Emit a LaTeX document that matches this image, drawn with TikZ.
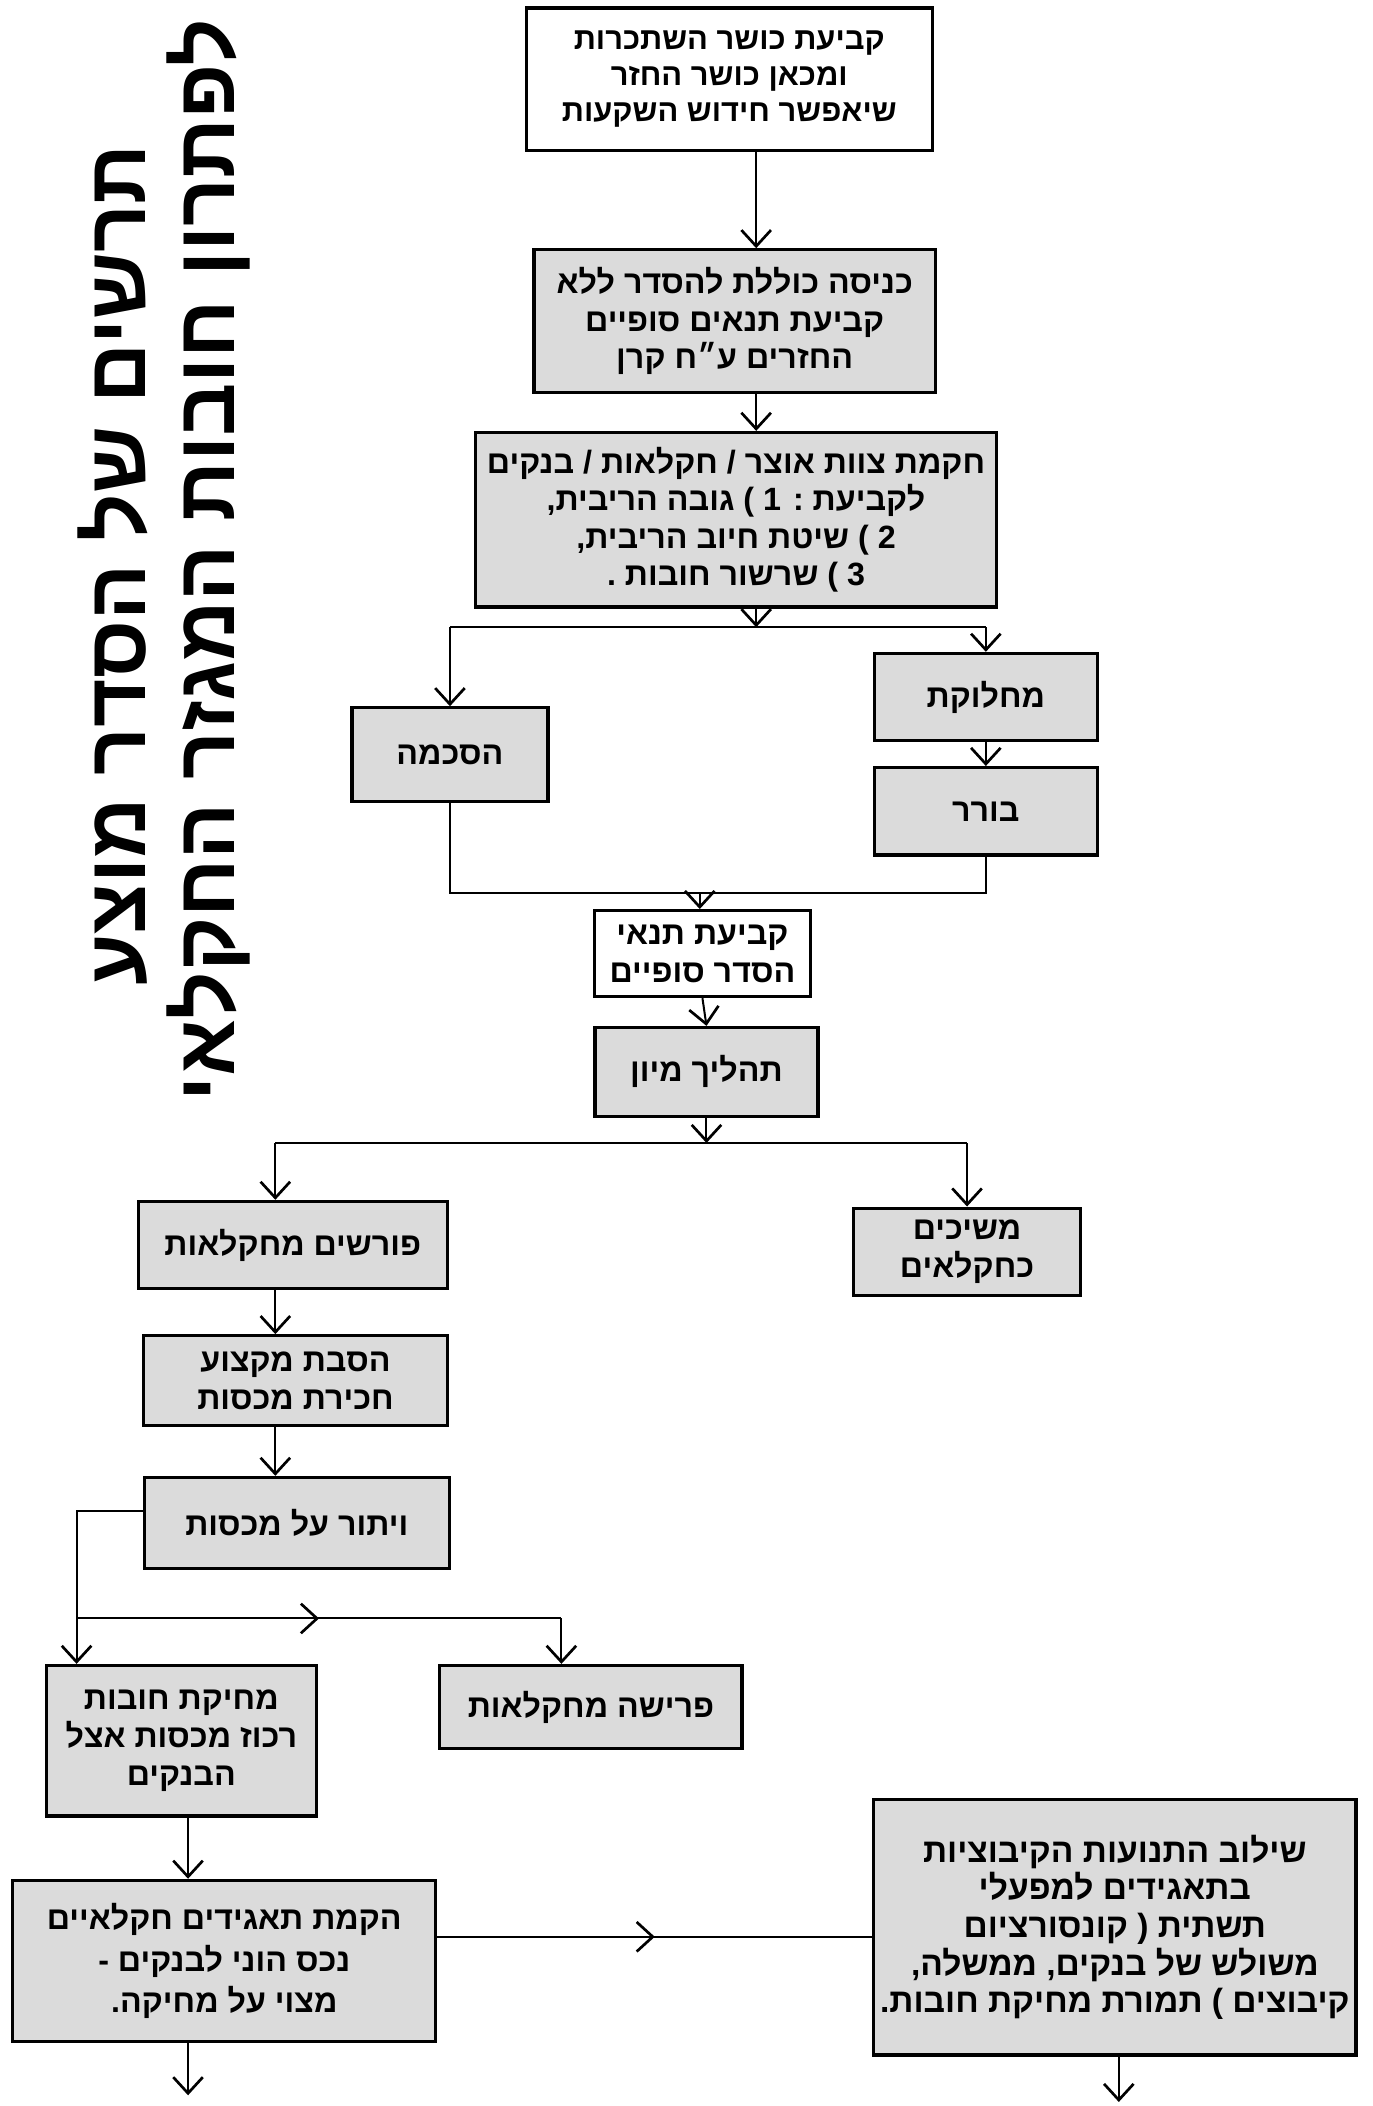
\documentclass[tikz,border=0pt]{standalone}
\usepackage{fontspec}
\newfontfamily\hebfont[Script=Hebrew]{Liberation Sans}
\TeXXeTstate=1
\usetikzlibrary{arrows.meta,decorations.markings}
\newcommand{\hebline}[1]{\beginR #1\endR}

\tikzset{
  box/.style={draw, line width=2.4pt, fill=white, align=center, inner sep=2pt,
    font=\hebfont\bfseries\fontsize{24}{28}\selectfont},
  shadebox/.style={box, fill=black!14},
  link/.style={line width=1.5pt},
  arr/.style={link, -{Straight Barb[length=12pt,width=22pt,line width=2pt]}},
  midarrow/.style={postaction={decorate}, decoration={markings,
    mark=at position #1 with {\arrow{Straight Barb[length=12pt,width=22pt,line width=2pt]}}}},
  headline/.style={rotate=90, font=\hebfont\bfseries\fontsize{62}{62}\selectfont}
}

\begin{document}
\begin{tikzpicture}[x=1pt,y=-1pt]
  \useasboundingbox (0,0) rectangle (1022,1568);

  % Title, turned on its side
  \node[headline] (titleA) at (84,421) {\hebline{תרשים של הסדר מוצע}};
  \node[headline] (titleB) at (155,417) {\hebline{לפתרון חובות המגזר החקלאי}};

  % Upper column of boxes
  \node[box, minimum width=302pt, minimum height=106pt,
    font=\hebfont\bfseries\fontsize{23}{27}\selectfont] (capacity) at (543,59)
    {\hebline{קביעת כושר השתכרות}\\\hebline{ומכאן כושר החזר}\\\hebline{שיאפשר חידוש השקעות}};
  \node[shadebox, minimum width=299pt, minimum height=106pt] (entry) at (547,239)
    {\hebline{כניסה כוללת להסדר ללא}\\\hebline{קביעת תנאים סופיים}\\\hebline{החזרים ע״ח קרן}};
  \node[shadebox, minimum width=388pt, minimum height=130pt] (team) at (548,387)
    {\hebline{חקמת צוות אוצר / חקלאות / בנקים}\\\hebline{לקביעת : 1 ) גובה הריבית,}\\\hebline{2 ) שיטת חיוב הריבית,}\\\hebline{3 ) שרשור חובות .}};

  % Agreement or dispute
  \node[shadebox, minimum width=146pt, minimum height=70pt] (agree) at (335,562) {\hebline{הסכמה}};
  \node[shadebox, minimum width=166pt, minimum height=65pt] (dispute) at (734,519) {\hebline{מחלוקת}};
  \node[shadebox, minimum width=166pt, minimum height=65pt] (arbiter) at (734,604) {\hebline{בורר}};

  \node[box, minimum width=161pt, minimum height=64pt] (terms) at (523,710)
    {\hebline{קביעת תנאי}\\\hebline{הסדר סופיים}};
  \node[shadebox, minimum width=166pt, minimum height=66pt] (sorting) at (526,798) {\hebline{תהליך מיון}};

  % Lower left column
  \node[shadebox, minimum width=230pt, minimum height=65pt] (retire) at (218,927) {\hebline{פורשים מחקלאות}};
  \node[shadebox, minimum width=169pt, minimum height=65pt] (stay) at (720,932)
    {\hebline{משיכים}\\\hebline{כחקלאים}};
  \node[shadebox, minimum width=226pt, minimum height=67pt] (convert) at (220,1028)
    {\hebline{הסבת מקצוע}\\\hebline{חכירת מכסות}};
  \node[shadebox, minimum width=227pt, minimum height=68pt] (waive) at (221,1134) {\hebline{ויתור על מכסות}};
  \node[shadebox, minimum width=225pt, minimum height=62pt] (exitfarm) at (440,1271) {\hebline{פרישה מחקלאות}};
  \node[shadebox, minimum width=201pt, minimum height=112pt] (writeoff) at (135,1296)
    {\hebline{מחיקת חובות}\\\hebline{רכוז מכסות אצל}\\\hebline{הבנקים}};
  \node[shadebox, minimum width=315pt, minimum height=120pt,
    font=\hebfont\bfseries\fontsize{24}{31}\selectfont] (corp) at (167,1460)
    {\hebline{הקמת תאגידים חקלאיים}\\\hebline{נכס הוני לבנקים -}\\\hebline{מצוי על מחיקה.}};
  \node[shadebox, minimum width=359pt, minimum height=190pt,
    font=\hebfont\bfseries\fontsize{25}{28}\selectfont] (combine) at (830,1435)
    {\hebline{שילוב התנועות הקיבוציות}\\\hebline{בתאגידים למפעלי}\\\hebline{תשתית ( קונסורציום}\\\hebline{משולש של בנקים, ממשלה,}\\\hebline{קיבוצים ) תמורת מחיקת חובות.}};

  % Junction points
  \coordinate (spine) at (563,0);
  \coordinate (splitA) at (563,467);
  \coordinate (mergeA) at (521,665);
  \coordinate (splitB) at (526,851);
  \coordinate (colL) at (205,0);
  \coordinate (cornerW) at (57,1125);
  \coordinate (branchW) at (57,1205);
  \coordinate (dropE) at (418,1205);
  \coordinate (outL) at (140,1560);
  \coordinate (outR) at (833,1565);

  % Connectors of the upper part
  \draw[arr] (capacity.south -| spine) -- (entry.north -| spine);
  \draw[arr] (entry.south -| spine) -- (team.north -| spine);
  \draw[arr] (team.south -| splitA) -- (splitA);
  \draw[link] (agree.north |- splitA) -- (dispute.north |- splitA);
  \draw[arr] (agree.north |- splitA) -- (agree.north);
  \draw[arr] (dispute.north |- splitA) -- (dispute.north);
  \draw[arr] (dispute.south) -- (arbiter.north);
  \draw[link] (agree.south) -- (agree.south |- mergeA) -- (arbiter.south |- mergeA) -- (arbiter.south);
  \draw[arr] (mergeA) -- (terms.north -| mergeA);
  \draw[arr] (terms.south) -- (sorting.north);

  % Connectors of the lower part
  \draw[arr] (sorting.south) -- (splitB);
  \draw[link] (splitB -| colL) -- (splitB -| stay.north);
  \draw[arr] (splitB -| colL) -- (retire.north -| colL);
  \draw[arr] (splitB -| stay.north) -- (stay.north);
  \draw[arr] (retire.south -| colL) -- (convert.north -| colL);
  \draw[arr] (convert.south -| colL) -- (waive.north -| colL);
  \draw[arr] (waive.west |- cornerW) -- (cornerW) -- (writeoff.north -| cornerW);
  \draw[link, midarrow=0.5] (branchW) -- (dropE);
  \draw[arr] (dropE) -- (dropE |- exitfarm.north);
  \draw[arr] (writeoff.south -| outL) -- (corp.north -| outL);
  \draw[link, midarrow=0.5] ([yshift=18pt]corp.east) -- ([yshift=18pt]corp.east -| combine.west);
  \draw[arr] (corp.south -| outL) -- (outL);
  \draw[arr] (combine.south -| outR) -- (outR);
\end{tikzpicture}
\end{document}
